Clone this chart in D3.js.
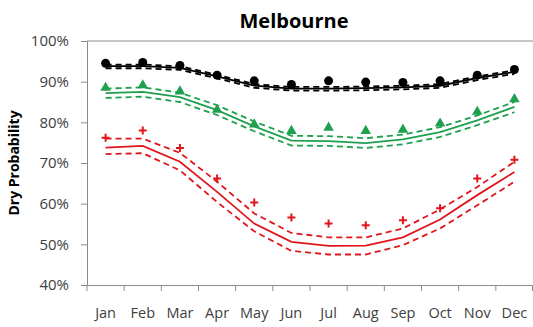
<!DOCTYPE html>
<html>
<head>
<meta charset="utf-8">
<script src="https://cdn.jsdelivr.net/npm/d3@7"></script>
<style>
body{margin:0;background:#fff;}
#canvas{width:533px;height:327px;}
text{font-family:"Open Sans",sans-serif;}
</style>
</head>
<body>
<div id="canvas"></div>
<script>
var months = ['Jan','Feb','Mar','Apr','May','Jun','Jul','Aug','Sep','Oct','Nov','Dec'];
var yTicks = [40,50,60,70,80,90,100];

// black series (highest)
var blackObs = [94.5,94.7,94.0,91.6,90.2,89.3,90.2,89.9,89.8,90.2,91.6,93.0];
var blackFit = [93.8,93.8,93.4,91.3,89.0,88.3,88.3,88.4,88.6,89.0,90.9,92.4];
var blackUp  = [94.2,94.2,93.8,91.7,89.4,88.7,88.7,88.8,89.0,89.4,91.3,92.8];
var blackLo  = [93.3,93.3,92.9,90.8,88.5,87.8,87.8,87.9,88.1,88.5,90.4,91.9];

// green series
var greenObs = [88.5,89.1,87.6,83.1,79.5,77.9,78.7,77.9,78.2,79.7,82.6,85.7];
var greenFit = [87.2,87.5,86.2,83.0,79.0,75.5,75.4,74.9,75.8,77.6,80.5,83.8];
var greenUp  = [88.3,88.6,87.3,84.2,80.2,76.7,76.6,76.1,77.0,78.8,81.7,85.0];
var greenLo  = [86.0,86.3,85.0,81.8,77.8,74.3,74.2,73.7,74.6,76.4,79.3,82.5];

// red series
var redObs = [76.2,78.0,73.7,66.2,60.3,56.6,55.1,54.7,55.9,58.9,66.2,70.8];
var redFit = [73.8,74.2,70.3,62.9,55.1,50.6,49.6,49.7,51.7,56.1,62.1,67.8];
var redUp  = [76.0,76.0,72.5,65.4,57.6,52.8,51.7,51.7,53.9,58.6,64.1,70.3];
var redLo  = [72.2,72.4,68.2,60.4,53.2,48.4,47.5,47.5,49.8,53.9,59.6,65.4];

var margin = {t:41,r:0,b:42,l:87};
var width = 533 - margin.l - margin.r,
    height = 327 - margin.t - margin.b;

var svg = d3.select('#canvas')
    .append('svg')
    .attr('width',533)
    .attr('height',327);

var plot = svg.append('g')
    .attr('transform','translate('+margin.l+','+margin.t+')');

var x = d3.scaleBand().domain(months).range([0,width]);
var y = d3.scaleLinear().domain([40,100]).range([height,0]);

//top border of plot area
plot.append('line')
    .attr('x1',0).attr('x2',width)
    .attr('y1',0).attr('y2',0)
    .style('stroke','#8c8c8c');

//axes
var yAxis = plot.append('g')
    .call(d3.axisLeft(y).tickValues(yTicks).tickSize(6).tickPadding(12).tickFormat(function(d){return d+'%';}));
var xAxis = plot.append('g')
    .attr('transform','translate(0,'+height+')')
    .call(d3.axisBottom(x).tickSize(0).tickPadding(23));

//x ticks at band edges
xAxis.selectAll('.edge')
    .data(d3.range(13))
    .enter().append('line')
    .attr('class','edge')
    .attr('x1',function(i){return Math.min(i*x.bandwidth(),width-0.5);})
    .attr('x2',function(i){return Math.min(i*x.bandwidth(),width-0.5);})
    .attr('y1',0).attr('y2',6)
    .style('stroke','#8c8c8c');

[yAxis,xAxis].forEach(function(a){
    a.select('.domain').style('stroke','#8c8c8c');
    a.selectAll('.tick line').style('stroke','#8c8c8c');
    a.selectAll('text').style('fill','#404040').style('font-size','14.5px');
});
yAxis.selectAll('text').style('font-size','15px');

function cx(d,i){return x(months[i])+x.bandwidth()/2;}
var line = d3.line().x(cx).y(function(d){return y(d);});

var series = [
    {obs:blackObs,fit:blackFit,up:blackUp,lo:blackLo,color:'#000000',shape:'circle'},
    {obs:greenObs,fit:greenFit,up:greenUp,lo:greenLo,color:'#1fa04e',shape:'triangle'},
    {obs:redObs,fit:redFit,up:redUp,lo:redLo,color:'#e0161c',shape:'plus'}
];

series.forEach(function(s){
    plot.append('path').attr('d',line(s.fit))
        .style('fill','none').style('stroke',s.color).style('stroke-width','1.8px');
    [s.up,s.lo].forEach(function(b){
        plot.append('path').attr('d',line(b))
            .style('fill','none').style('stroke',s.color).style('stroke-width','1.8px')
            .style('stroke-dasharray','6,4');
    });
    var g = plot.append('g');
    if(s.shape==='circle'){
        g.selectAll('circle').data(s.obs).enter().append('circle')
            .attr('cx',cx).attr('cy',function(d){return y(d);})
            .attr('r',4.5).style('fill',s.color);
    } else if(s.shape==='triangle'){
        g.selectAll('path').data(s.obs).enter().append('path')
            .attr('d',d3.symbol().type(d3.symbolTriangle).size(48))
            .attr('transform',function(d,i){return 'translate('+cx(d,i)+','+y(d)+')';})
            .style('fill',s.color);
    } else {
        g.selectAll('path').data(s.obs).enter().append('path')
            .attr('d','M-4,0H4M0,-4V4')
            .attr('transform',function(d,i){return 'translate('+cx(d,i)+','+y(d)+')';})
            .style('fill','none').style('stroke',s.color).style('stroke-width','2px');
    }
});

//title
svg.append('text')
    .attr('x',294).attr('y',28)
    .attr('text-anchor','middle')
    .style('font-size','20px').style('font-weight','bold').style('fill','#000')
    .text('Melbourne');

//y label
svg.append('text')
    .attr('transform','translate(19,'+(margin.t+height/2)+') rotate(-90)')
    .attr('text-anchor','middle')
    .style('font-size','14px').style('font-weight','bold').style('fill','#000')
    .text('Dry Probability');
</script>
</body>
</html>
